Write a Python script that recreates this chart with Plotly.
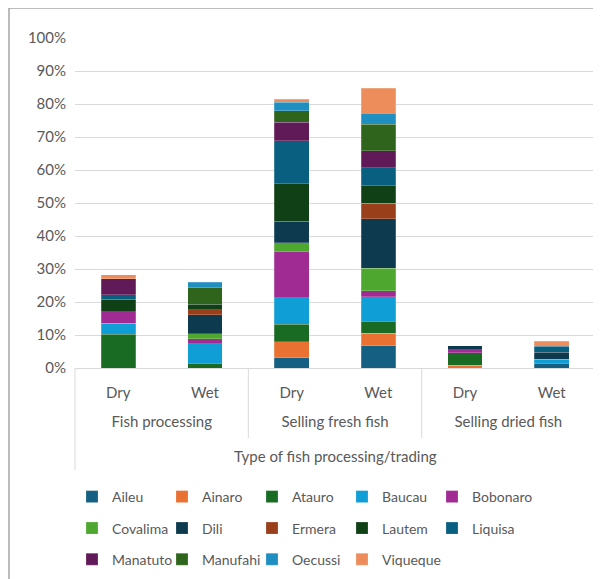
import plotly.graph_objects as go

# ---- data (percent of respondents) ----
activity = ["Fish processing", "Fish processing", "Selling fresh fish", "Selling fresh fish",
            "Selling dried fish", "Selling dried fish"]
season = ["Dry", "Wet", "Dry", "Wet", "Dry", "Wet"]

districts = ["Aileu", "Ainaro", "Atauro", "Baucau", "Bobonaro", "Covalima", "Dili",
             "Ermera", "Lautem", "Liquisa", "Manatuto", "Manufahi", "Oecussi", "Viqueque"]

aileu    = [0, 0, 3.1, 6.8, 0, 1.5]
ainaro   = [0, 0, 4.9, 3.7, 0.8, 0]
atauro   = [10.3, 1.5, 5.3, 3.7, 3.8, 0]
baucau   = [3.3, 5.9, 8.0, 7.4, 0, 1.2]
bobonaro = [3.5, 1.4, 14.0, 1.8, 1.0, 0]
covalima = [0, 1.6, 2.6, 6.8, 0, 0]
dili     = [0, 5.8, 6.6, 15.1, 1.2, 2.1]
ermera   = [0, 1.5, 0, 4.7, 0, 0]
lautem   = [3.8, 1.6, 11.3, 5.2, 0, 0]
liquisa  = [1.3, 0, 13.0, 5.5, 0, 1.8]
manatuto = [4.8, 0, 5.7, 5.1, 0, 0]
manufahi = [0, 5.0, 3.5, 8.1, 0, 0]
oecussi  = [0, 1.7, 2.5, 3.3, 0, 0]
viqueque = [1.3, 0, 1.0, 7.6, 0, 1.5]

series = [aileu, ainaro, atauro, baucau, bobonaro, covalima, dili,
          ermera, lautem, liquisa, manatuto, manufahi, oecussi, viqueque]

colors = ["#156082", "#E97132", "#196B24", "#0F9ED5", "#A02B93", "#4EA72E", "#0D3A4E",
          "#99401B", "#0F4016", "#095F80", "#601A58", "#2F641C", "#1F8EC0", "#ED8D5B"]

y_ticks = [0, 10, 20, 30, 40, 50, 60, 70, 80, 90, 100]
y_ticktext = [f"{v}%" for v in y_ticks]

FONT = "Lato"
FS = 15
TXT = "#595959"

# The page body has an 8px margin, so the figure is laid out 8px up/left of the window.
OFF = 8
W, H = 601 - OFF, 579 - OFF
L, R, T, B = 67, 6, 30, 211
PW, PH = W - L - R, H - T - B


def px_x(px):  # window pixel -> paper fraction
    return (px - OFF - L) / PW


def px_y(py):
    return (H - B - (py - OFF)) / PH


# outer level label gets a leading blank line to push it lower (display only)
activity_disp = ["<br>" + a for a in activity]

fig = go.Figure()
legend_names = ["legend"] * 5 + ["legend2"] * 5 + ["legend3"] * 4
row_end = {"Bobonaro", "Liquisa", "Viqueque"}
for name, vals, col, lg in zip(districts, series, colors, legend_names):
    fig.add_trace(go.Bar(
        x=[activity_disp, season],
        y=[v if v else None for v in vals],
        name=name,
        marker=dict(color=col, line=dict(width=0.6, color="rgba(255,255,255,0.35)")),
        legend=lg,
        legendwidth=90 if name in row_end else 45,
    ))

leg_common = dict(
    orientation="h", xanchor="left", yanchor="middle",
    entrywidth=45, entrywidthmode="pixels",
    font=dict(family=FONT, size=14, color=TXT),
    bgcolor="rgba(0,0,0,0)", traceorder="normal", itemclick=False,
    borderwidth=0,
)

n_groups = 3
divider_x = [i / n_groups for i in range(1, n_groups)]
grid_col = "#d9d9d9"

shapes = [
    # outer chart border (top + left)
    dict(type="line", xref="paper", yref="paper", x0=px_x(9), x1=px_x(601),
         y0=px_y(8), y1=px_y(8), line=dict(color="#a6a6a6", width=1.5)),
    dict(type="line", xref="paper", yref="paper", x0=px_x(9), x1=px_x(9),
         y0=px_y(8), y1=px_y(579), line=dict(color="#a6a6a6", width=1.5)),
    # category table side lines
    dict(type="line", xref="paper", yref="paper", x0=0, x1=0,
         y0=0, y1=px_y(470), line=dict(color=grid_col, width=1)),
    dict(type="line", xref="paper", yref="paper", x0=1, x1=1,
         y0=0, y1=px_y(470), line=dict(color=grid_col, width=1)),
]
for dx in divider_x:
    shapes.append(dict(type="line", xref="paper", yref="paper", x0=dx, x1=dx,
                       y0=0, y1=px_y(438), line=dict(color=grid_col, width=1)))

fig.update_layout(
    template="none",
    width=W, height=H,
    margin=dict(l=L, r=R, t=T, b=B, pad=0, autoexpand=False),
    paper_bgcolor="white", plot_bgcolor="white",
    barmode="stack", bargap=0.6,
    font=dict(family=FONT, size=FS, color=TXT),
    legend=dict(x=px_x(72), y=px_y(497), **leg_common),
    legend2=dict(x=px_x(72), y=px_y(528.5), **leg_common),
    legend3=dict(x=px_x(72), y=px_y(559.6), **leg_common),
    yaxis=dict(
        range=[0, 100], tickvals=y_ticks, ticktext=y_ticktext,
        showgrid=True, gridcolor=grid_col, gridwidth=1,
        zeroline=False, showline=False, ticks="", automargin=False,
        tickfont=dict(family=FONT, size=FS, color=TXT),
        ticklabelstandoff=8,
    ),
    xaxis=dict(
        type="multicategory", range=[-0.5, 5.5], automargin=False,
        showline=True, linecolor=grid_col, linewidth=1,
        showdividers=False,
        ticks="", showgrid=False, zeroline=False,
        tickfont=dict(family=FONT, size=FS, color=TXT),
        ticklabelstandoff=11,
    ),
    annotations=[dict(
        text="Type of fish processing/trading", xref="paper", yref="paper",
        x=0.5, y=px_y(456.5), xanchor="center", yanchor="middle",
        showarrow=False, font=dict(family=FONT, size=FS, color=TXT),
    )],
    shapes=shapes,
)

fig.write_html("out.html")
